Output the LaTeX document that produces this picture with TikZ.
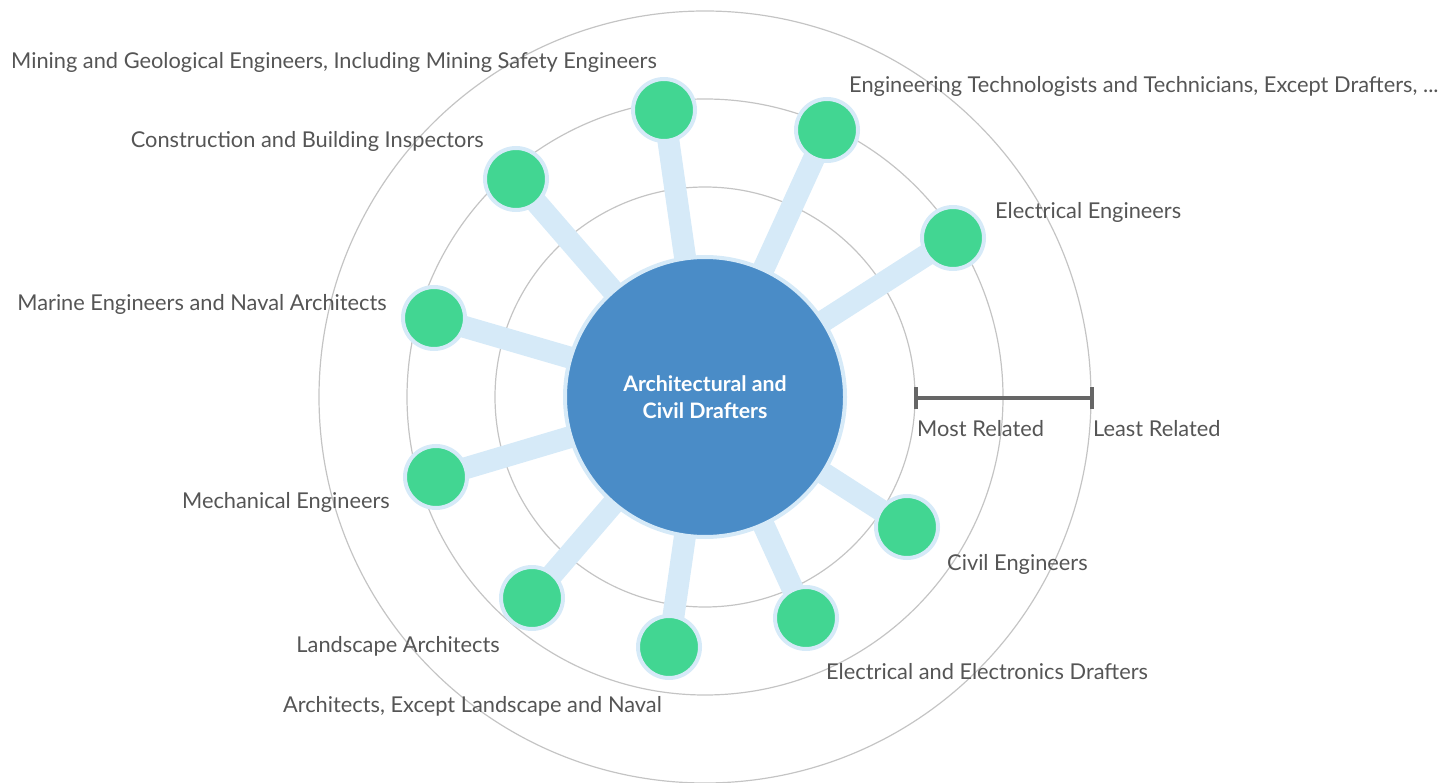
\documentclass[tikz,border=0pt]{standalone}
\usepackage{fontspec}
\setmainfont{Lato}
\definecolor{ringgray}{HTML}{C4C4C4}
\definecolor{linkblue}{HTML}{D6EAF8}
\definecolor{centerblue}{HTML}{4A8CC7}
\definecolor{nodegreen}{HTML}{42D692}
\definecolor{textgray}{HTML}{555555}
\definecolor{bargray}{HTML}{666666}
\tikzset{
  ring/.style={draw=ringgray, line width=1.2pt},
  link/.style={draw=linkblue, line width=22pt},
  leaf/.style={circle, fill=nodegreen, draw=linkblue, line width=4pt, minimum size=62pt, inner sep=0pt},
  hub/.style={circle, fill=centerblue, draw=linkblue, line width=4pt, minimum size=280pt, inner sep=0pt, text=white, font=\fontsize{21.3}{27}\selectfont\bfseries, align=center},
  lbl/.style={text=textgray, font=\fontsize{21.8}{25}\selectfont, inner sep=0pt, yshift=-2pt},
  bar/.style={draw=bargray, line width=4pt},
}
\begin{document}
\begin{tikzpicture}[x=1pt,y=-1pt]
\useasboundingbox (0,0) rectangle (1442,783);
\coordinate (c) at (705,397);
\draw[ring] (c) circle[radius=210];
\draw[ring] (c) circle[radius=298];
\draw[ring] (c) circle[radius=386];
% leaf positions
\coordinate (p1) at (664,110);
\coordinate (p2) at (827,130);
\coordinate (p3) at (953,238);
\coordinate (p4) at (516,179);
\coordinate (p5) at (434,318);
\coordinate (p6) at (436,477);
\coordinate (p7) at (532,598);
\coordinate (p8) at (669,647);
\coordinate (p9) at (806,618);
\coordinate (p10) at (907,527);
\foreach \n in {1,...,10}{
  \draw[link] (c) -- (p\n);
}
\foreach \n in {1,...,10}{
  \node[leaf] (n\n) at (p\n) {};
}
\node[hub] (hub) at (c) {Architectural and\\Civil Drafters};
% labels
\node[lbl, anchor=east] (l1) at (657,60) {Mining and Geological Engineers, Including Mining Safety Engineers};
\node[lbl, anchor=west] (l2) at (849,84) {Engineering Technologists and Technicians, Except Drafters, ...};
\node[lbl, anchor=west] (l3) at (995,210) {Electrical Engineers};
\node[lbl, anchor=east] (l4) at (484,139) {Construction and Building Inspectors};
\node[lbl, anchor=east] (l5) at (387,302) {Marine Engineers and Naval Architects};
\node[lbl, anchor=east] (l6) at (390,500) {Mechanical Engineers};
\node[lbl, anchor=east] (l7) at (500,644) {Landscape Architects};
\node[lbl, anchor=east] (l8) at (662,704) {Architects, Except Landscape and Naval};
\node[lbl, anchor=west] (l9) at (826,670) {Electrical and Electronics Drafters};
\node[lbl, anchor=west] (l10) at (947,562) {Civil Engineers};
% scale bar
\coordinate (b1) at (916,398);
\coordinate (b2) at (1092,398);
\draw[bar] (b1) -- (b2);
\draw[bar] ([yshift=-11pt]b1) -- ([yshift=11pt]b1);
\draw[bar] ([yshift=-11pt]b2) -- ([yshift=11pt]b2);
\node[lbl, anchor=west] (m1) at (917,427) {Most Related};
\node[lbl, anchor=west] (m2) at (1093,427) {Least Related};
\end{tikzpicture}
\end{document}
